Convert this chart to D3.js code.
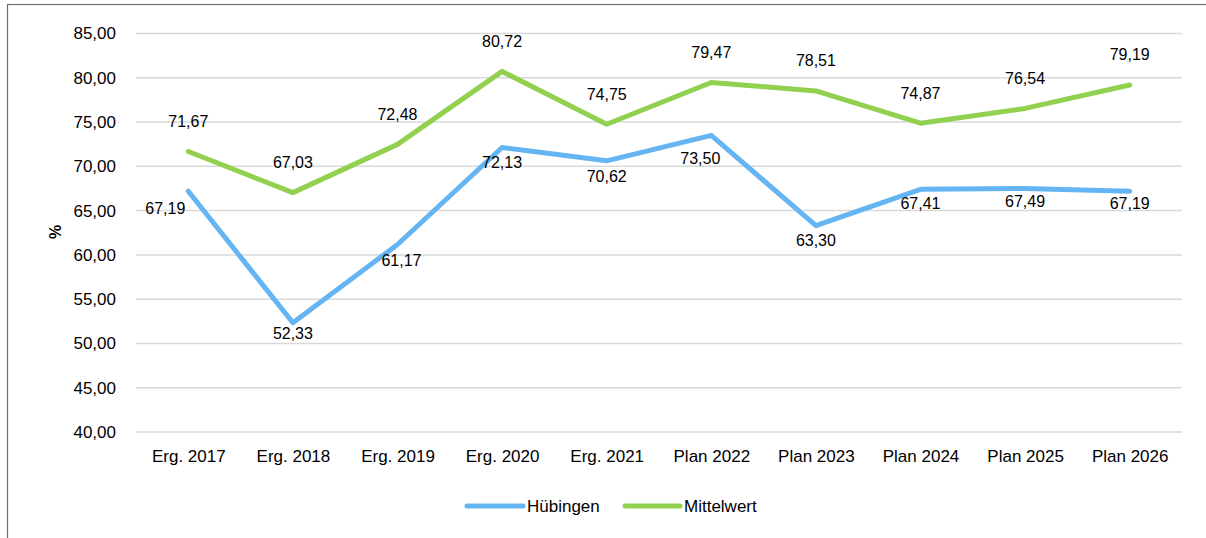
<!DOCTYPE html>
<html>
<head>
<meta charset="utf-8">
<script src="https://cdn.jsdelivr.net/npm/d3@7"></script>
<style>
  body { margin: 0; background: #fff; }
  svg { display: block; font-family: "Liberation Sans", Arial, sans-serif; }
</style>
</head>
<body>
<div id="chart"></div>
<script>
// Data
var categories = ["Erg. 2017", "Erg. 2018", "Erg. 2019", "Erg. 2020", "Erg. 2021",
                  "Plan 2022", "Plan 2023", "Plan 2024", "Plan 2025", "Plan 2026"];
var huebingen = [67.19, 52.33, 61.17, 72.13, 70.62, 73.50, 63.30, 67.41, 67.49, 67.19];
var mittelwert = [71.67, 67.03, 72.48, 80.72, 74.75, 79.47, 78.51, 74.87, 76.54, 79.19];
var yTicks = [40, 45, 50, 55, 60, 65, 70, 75, 80, 85];

// label nudges for the blue series (Excel put a few by hand)
var blueNudge = [[-23, 17], [0, 11], [4, 16], [0, 15], [0, 16], [-11, 23], [0, 15], [0, 14], [0, 13], [0, 12]];

var W = 1206, H = 538;
var margin = {top: 33.5, left: 136, right: 24, bottom: 106};
var width = W - margin.left - margin.right;
var height = H - margin.top - margin.bottom;

var svg = d3.select("#chart")
    .append("svg")
    .attr("width", W)
    .attr("height", H);

// outer frame (runs off right and bottom edge)
svg.append("rect")
    .attr("x", 7.5).attr("y", 4.5)
    .attr("width", W + 10).attr("height", H + 10)
    .attr("fill", "none")
    .attr("stroke", "#6f6f6f")
    .attr("stroke-width", 1.2);

var g = svg.append("g")
    .attr("transform", `translate(${margin.left},${margin.top})`);

var x = d3.scalePoint()
    .domain(categories)
    .range([0, width])
    .padding(0.5);

var y = d3.scaleLinear()
    .domain([40, 85])
    .range([height, 0]);

var fmt = d => d.toFixed(2).replace(".", ",");

// gridlines
g.selectAll(".grid")
    .data(yTicks)
    .enter().append("line")
    .attr("x1", 0).attr("x2", width)
    .attr("y1", d => y(d)).attr("y2", d => y(d))
    .attr("stroke", "#d9d9d9")
    .attr("stroke-width", 1.5);

// y axis
var yAxis = g.append("g")
    .call(d3.axisLeft(y).tickValues(yTicks).tickFormat(fmt).tickSize(0).tickPadding(20));
yAxis.select(".domain").remove();
yAxis.selectAll("text")
    .attr("font-size", 17)
    .attr("font-family", "Liberation Sans, Arial, sans-serif")
    .attr("fill", "#000");

// x axis
var xAxis = g.append("g")
    .attr("transform", `translate(0,${height})`)
    .call(d3.axisBottom(x).tickSize(0).tickPadding(18));
xAxis.select(".domain").remove();
xAxis.selectAll("text")
    .attr("font-size", 17)
    .attr("font-family", "Liberation Sans, Arial, sans-serif")
    .attr("fill", "#000");

// axis title
svg.append("text")
    .attr("transform", "translate(55,232) rotate(-90)")
    .attr("text-anchor", "middle")
    .attr("dominant-baseline", "central")
    .attr("font-size", 16)
    .attr("font-weight", "bold")
    .text("%");

var series = [
    {name: "Hübingen", values: huebingen, color: "#66b5f3"},
    {name: "Mittelwert", values: mittelwert, color: "#92d050"}
];

var line = d3.line()
    .x((d, i) => x(categories[i]))
    .y(d => y(d));

series.forEach(function(s) {
    g.append("path")
        .datum(s.values)
        .attr("fill", "none")
        .attr("stroke", s.color)
        .attr("stroke-width", 5)
        .attr("stroke-linecap", "round")
        .attr("stroke-linejoin", "round")
        .attr("d", line);
});

// data labels
g.selectAll(".lblG")
    .data(mittelwert)
    .enter().append("text")
    .attr("x", (d, i) => x(categories[i]))
    .attr("y", d => y(d) - 30)
    .attr("text-anchor", "middle")
    .attr("dominant-baseline", "central")
    .attr("font-size", 16)
    .text(fmt);

g.selectAll(".lblB")
    .data(huebingen)
    .enter().append("text")
    .attr("x", (d, i) => x(categories[i]) + blueNudge[i][0])
    .attr("y", (d, i) => y(d) + blueNudge[i][1])
    .attr("text-anchor", "middle")
    .attr("dominant-baseline", "central")
    .attr("font-size", 16)
    .text(fmt);

// legend
var legendPos = [{x0: 467, x1: 523}, {x0: 625, x1: 680}];
var legend = svg.selectAll(".legend")
    .data(series)
    .enter().append("g");
legend.append("line")
    .attr("x1", (d, i) => legendPos[i].x0)
    .attr("x2", (d, i) => legendPos[i].x1)
    .attr("y1", 506).attr("y2", 506)
    .attr("stroke", d => d.color)
    .attr("stroke-width", 5)
    .attr("stroke-linecap", "round");
legend.append("text")
    .attr("x", (d, i) => legendPos[i].x1 + 4)
    .attr("y", 506)
    .attr("dominant-baseline", "central")
    .attr("font-size", 17)
    .text(d => d.name);
</script>
</body>
</html>
